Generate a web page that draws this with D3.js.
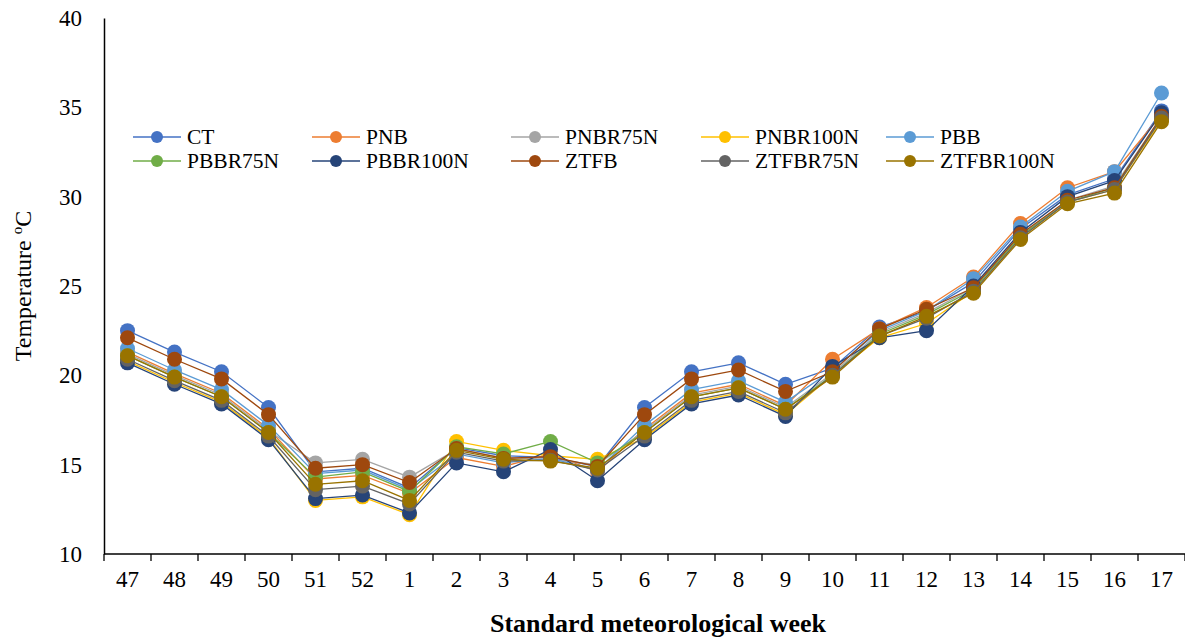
<!DOCTYPE html>
<html>
<head>
<meta charset="utf-8">
<script src="https://cdn.jsdelivr.net/npm/d3@7"></script>
<style>
  html, body { margin: 0; padding: 0; background: #fff; }
  svg { display: block; font-family: "Liberation Serif", "Times New Roman", serif; }
</style>
</head>
<body>
<svg id="chart" width="1185" height="638"></svg>
<script>
// Standard meteorological weeks (Nov -> Apr)
const weeks = ["47","48","49","50","51","52","1","2","3","4","5","6","7","8","9","10","11","12","13","14","15","16","17"];

// Temperature (°C) per treatment
const CT        = [22.5,21.3,20.2,18.2,14.6,14.8,13.7,15.95,15.5,15.4,14.9,18.2,20.2,20.7,19.5,20.4,22.7,23.6,25.2,28.2,30.1,31.0,34.8];
const PNB       = [21.3,20.1,19.0,17.0,14.2,14.4,13.4,15.4,14.9,15.6,14.6,17.0,19.0,19.5,18.3,20.9,22.6,23.8,25.5,28.5,30.5,31.4,34.6];
const PNBR75N   = [21.2,20.0,18.9,16.9,15.1,15.3,14.3,15.85,15.4,15.3,15.0,16.9,18.9,19.4,18.2,20.1,22.4,23.5,24.9,27.8,29.8,30.6,34.5];
const PNBR100N  = [20.8,19.6,18.5,16.5,13.0,13.2,12.2,16.3,15.8,15.5,15.3,16.5,18.5,19.0,17.8,20.0,22.1,22.9,24.7,27.7,29.7,30.4,34.3];
const PBB       = [21.5,20.3,19.2,17.2,14.5,14.7,13.6,15.6,15.1,15.35,14.7,17.2,19.2,19.7,18.5,20.3,22.5,23.6,25.4,28.3,30.3,31.4,35.8];
const PBBR75N   = [21.1,19.9,18.8,16.8,14.3,14.6,13.5,16.0,15.6,16.3,15.1,16.8,18.8,19.3,18.1,20.0,22.3,23.4,24.8,27.8,29.7,30.5,34.4];
const PBBR100N  = [20.7,19.5,18.4,16.4,13.1,13.3,12.3,15.1,14.6,15.85,14.1,16.4,18.4,18.9,17.7,20.5,22.1,22.5,25.0,28.0,30.0,30.9,34.7];
const ZTFB      = [22.1,20.9,19.8,17.8,14.8,15.0,14.0,15.9,15.35,15.45,14.9,17.8,19.8,20.3,19.1,20.2,22.6,23.7,24.9,27.9,29.8,30.5,34.5];
const ZTFBR75N  = [20.9,19.7,18.6,16.6,13.6,13.8,12.8,15.7,15.2,15.25,14.7,16.6,18.6,19.1,17.9,20.0,22.2,23.2,24.7,27.7,29.7,30.4,34.4];
const ZTFBR100N = [21.1,19.9,18.8,16.8,13.9,14.1,13.0,15.8,15.3,15.2,14.8,16.8,18.8,19.3,18.1,19.9,22.2,23.3,24.6,27.6,29.6,30.2,34.2];

const seriesNames  = ["CT","PNB","PNBR75N","PNBR100N","PBB","PBBR75N","PBBR100N","ZTFB","ZTFBR75N","ZTFBR100N"];
const seriesValues = [CT,PNB,PNBR75N,PNBR100N,PBB,PBBR75N,PBBR100N,ZTFB,ZTFBR75N,ZTFBR100N];
const seriesColors = ["#4472C4","#ED7D31","#A5A5A5","#FFC000","#5B9BD5","#70AD47","#264478","#9E480E","#636363","#997300"];

const yTicks = [10,15,20,25,30,35,40];

const svg = d3.select("#chart");
const plot = { left: 104, right: 1185, top: 18, bottom: 554 };

const x = d3.scaleBand().domain(weeks).range([plot.left, plot.right]).paddingInner(0).paddingOuter(0);
const y = d3.scaleLinear().domain([10, 40]).range([plot.bottom, plot.top]);
const cx = w => x(w) + x.bandwidth() / 2;

// Series lines and markers
const line = d3.line().x((d, i) => cx(weeks[i])).y(d => y(d));
const g = svg.append("g");
seriesNames.forEach((name, k) => {
  const sg = g.append("g").attr("class", "series");
  sg.append("path")
    .datum(seriesValues[k])
    .attr("d", line)
    .attr("fill", "none")
    .attr("stroke", seriesColors[k])
    .attr("stroke-width", 1.3);
  sg.selectAll("circle")
    .data(seriesValues[k])
    .join("circle")
    .attr("cx", (d, i) => cx(weeks[i]))
    .attr("cy", d => y(d))
    .attr("r", 7.5)
    .attr("fill", seriesColors[k]);
});

// Y axis: line only, labels on the left
const yAxis = d3.axisLeft(y).tickValues(yTicks).tickSize(0).tickPadding(22);
const yg = svg.append("g").attr("transform", `translate(${plot.left},0)`).call(yAxis);
yg.select(".domain").attr("stroke", "#000").attr("stroke-width", 1.5);
yg.selectAll("text").attr("font-size", 23).attr("font-family", "Liberation Serif").attr("fill", "#000");

// X axis: tick marks between categories
const xg = svg.append("g").attr("transform", `translate(0,${plot.bottom})`);
xg.append("line").attr("x1", plot.left).attr("x2", plot.right).attr("stroke", "#000").attr("stroke-width", 1.5);
const boundaries = weeks.map(w => x(w)).concat([plot.right]);
xg.selectAll("line.tk").data(boundaries).join("line").attr("class", "tk")
  .attr("x1", d => d).attr("x2", d => d).attr("y1", 0).attr("y2", 7)
  .attr("stroke", "#000").attr("stroke-width", 1.3);
xg.selectAll("text").data(weeks).join("text")
  .attr("x", d => cx(d)).attr("y", 33)
  .attr("text-anchor", "middle")
  .attr("font-size", 23)
  .attr("fill", "#000")
  .text(d => d);

// Axis titles
svg.append("text")
  .attr("transform", "translate(31,286) rotate(-90)")
  .attr("text-anchor", "middle")
  .attr("font-size", 24)
  .attr("fill", "#000")
  .call(t => {
    t.append("tspan").text("Temperature ");
    t.append("tspan").attr("font-size", 15).attr("dy", -9).text("o");
    t.append("tspan").attr("dy", 9).text("C");
  });

svg.append("text")
  .attr("x", 658).attr("y", 632)
  .attr("text-anchor", "middle")
  .attr("font-size", 26)
  .attr("font-weight", "bold")
  .attr("fill", "#000")
  .text("Standard meteorological week");

// Legend: two rows of five entries
const legendTextX = [187, 366, 565, 755, 940];
const legendRowY = [137, 161];
const legend = svg.append("g");
seriesNames.forEach((name, k) => {
  const col = k % 5, row = Math.floor(k / 5);
  const tx = legendTextX[col], ty = legendRowY[row];
  const lg = legend.append("g");
  lg.append("line").attr("x1", tx - 54).attr("x2", tx - 6).attr("y1", ty).attr("y2", ty)
    .attr("stroke", seriesColors[k]).attr("stroke-width", 1.3);
  lg.append("circle").attr("cx", tx - 30).attr("cy", ty).attr("r", 6).attr("fill", seriesColors[k]);
  lg.append("text").attr("x", tx).attr("y", ty + 7).attr("font-size", 21.5).attr("fill", "#000").text(name);
});
</script>
</body>
</html>
